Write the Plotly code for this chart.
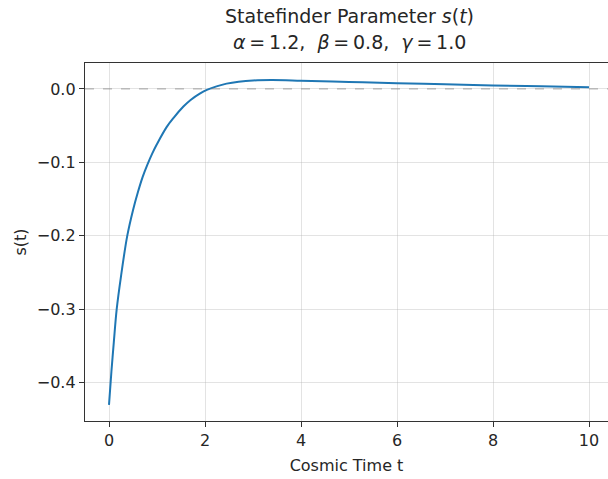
import plotly.graph_objects as go

# Statefinder parameter s(t) versus cosmic time
t_vals = [0.0, 0.05, 0.1, 0.16, 0.25, 0.38, 0.5, 0.6, 0.7, 0.8, 0.9, 1.0,
          1.2, 1.35, 1.55, 1.7, 1.9, 2.05, 2.24, 2.45, 2.7, 3.0, 3.4, 4.0,
          5.0, 6.0, 7.0, 8.0, 9.0, 10.0]
s_vals = [-0.430, -0.385, -0.345, -0.300, -0.255, -0.200, -0.165, -0.141,
          -0.120, -0.103, -0.088, -0.075, -0.052, -0.039, -0.024, -0.015,
          -0.006, -0.001, 0.0035, 0.0072, 0.0098, 0.0115, 0.0120, 0.0112,
          0.0095, 0.0078, 0.0063, 0.0047, 0.0035, 0.0023]

x_ticks = [0, 2, 4, 6, 8, 10]
y_ticks = [-0.4, -0.3, -0.2, -0.1, 0.0]
y_tick_text = ["\u22120.4", "\u22120.3", "\u22120.2", "\u22120.1", "0.0"]

thin = "\u2009"
title_line1 = "Statefinder Parameter <i>s</i>(<i>t</i>)"
title_line2 = (f"<i>\u03b1</i>{thin}={thin}1.2,  <i>\u03b2</i>{thin}={thin}0.8,  "
               f"<i>\u03b3</i>{thin}={thin}1.0")

font_family = "DejaVu Sans"
ink = "#262626"

fig = go.Figure()
fig.add_trace(go.Scatter(
    x=t_vals, y=s_vals, mode="lines",
    line=dict(color="#1f77b4", width=2.0, shape="spline", smoothing=1.0),
    showlegend=False, hoverinfo="skip",
))

# reference line at s = 0
fig.add_hline(y=0, line=dict(color="rgba(128,128,128,0.55)", width=1.2, dash="dash"))

# two-line title, centred over the axes box (plot area 358 px tall)
plot_h = 358.0
title_x_paper = ((85 + 613) / 2 - 85) / 523
for txt, y_px in [(title_line1, 16), (title_line2, 42)]:
    fig.add_annotation(
        text=txt, xref="paper", yref="paper",
        x=title_x_paper, y=(421 - y_px) / plot_h,
        xanchor="center", yanchor="middle", showarrow=False,
        font=dict(family=font_family, size=19, color=ink),
    )

fig.update_layout(
    width=608, height=479,
    margin=dict(l=85, r=0, t=63, b=58),
    paper_bgcolor="white", plot_bgcolor="white",
    font=dict(family=font_family, color=ink, size=16),
    xaxis=dict(
        range=[-0.5, -0.5 + 523 / 48.0],
        tickvals=x_ticks, ticktext=[str(v) for v in x_ticks],
        showgrid=True, gridcolor="rgba(176,176,176,0.35)", gridwidth=1,
        zeroline=False,
        showline=True, linecolor="#333333", linewidth=1.3, mirror=True,
        ticks="outside", ticklen=5, tickcolor="#333333",
        tickfont=dict(size=16),
        title=dict(text="Cosmic Time t", font=dict(size=16), standoff=10),
    ),
    yaxis=dict(
        range=[-0.452, 0.0353],
        tickvals=y_ticks, ticktext=y_tick_text,
        showgrid=True, gridcolor="rgba(176,176,176,0.35)", gridwidth=1,
        zeroline=False,
        showline=True, linecolor="#333333", linewidth=1.3, mirror=False,
        ticks="outside", ticklen=5, tickcolor="#333333",
        tickfont=dict(size=16),
        title=dict(text="s(t)", font=dict(size=16), standoff=6),
    ),
)

fig.write_html("out.html")
